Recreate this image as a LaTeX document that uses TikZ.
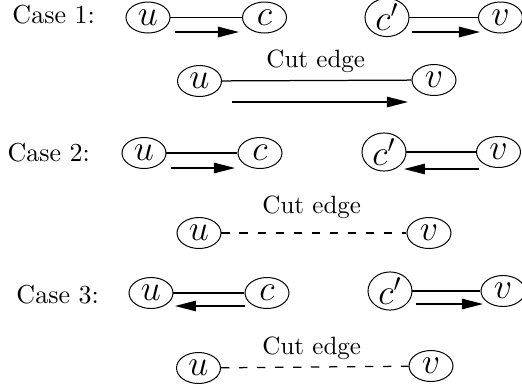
\documentclass[tikz,border=0pt]{standalone}
\usetikzlibrary{shapes.geometric,arrows.meta}
\begin{document}
\begin{tikzpicture}[x=0.4pt,y=-0.4pt,
  vert/.style={draw,ellipse,line width=0.4pt,inner sep=0pt,
    minimum width=17.6pt,minimum height=12.4pt,font=\Large},
  link/.style={line width=0.5pt},
  cutlink/.style={line width=0.5pt,dash pattern=on 3.4pt off 3.8pt},
  flow/.style={line width=0.5pt,-{Triangle[length=8.4pt,width=4.2pt]}},
  caselabel/.style={anchor=base west,inner sep=0pt,font=\fontsize{10.4}{12}\selectfont},
  cutlabel/.style={anchor=base west,inner sep=0pt}]
\useasboundingbox (0,0) rectangle (522,389);

% ---- Case 1 ----
\node[caselabel] (l1) at (12,23) {Case 1:};
\node[vert] (u1) at (148,17.5) {$u$};
\node[vert] (c1) at (264.5,17.5) {$c$};
\node[vert] (cp1) at (387,17.5) {$c'$};
\node[vert] (v1) at (500.5,17.5) {$v$};
\draw[link] (u1) -- (c1);
\draw[link] (cp1) -- (v1);
\coordinate (a1s) at (175,32); \coordinate (a1e) at (239,32);
\coordinate (b1s) at (412,32); \coordinate (b1e) at (480,32);
\draw[flow] (a1s) -- (a1e);
\draw[flow] (b1s) -- (b1e);

\node[cutlabel] (t1) at (266,67) {Cut edge};
\node[vert] (u2) at (199.5,81) {$u$};
\node[vert] (v2) at (434,80) {$v$};
\draw[link] (u2) -- (v2);
\coordinate (a2s) at (232,102); \coordinate (a2e) at (408,102);
\draw[flow] (a2s) -- (a2e);

% ---- Case 2 ----
\node[caselabel] (l2) at (7,161) {Case 2:};
\node[vert] (u3) at (144,153) {$u$};
\node[vert] (c3) at (260,153) {$c$};
\node[vert] (cp3) at (384,152) {$c'$};
\node[vert] (v3) at (498.5,152) {$v$};
\draw[link] (u3) -- (c3);
\draw[link] (cp3) -- (v3);
\coordinate (a3s) at (171,168); \coordinate (a3e) at (235,168);
\coordinate (b3s) at (479,169); \coordinate (b3e) at (404,169);
\draw[flow] (a3s) -- (a3e);
\draw[flow] (b3s) -- (b3e);

\node[cutlabel] (t4) at (262,213) {Cut edge};
\node[vert] (u4) at (199,233) {$u$};
\node[vert] (v4) at (429,233) {$v$};
\draw[cutlink] (u4) -- (v4);

% ---- Case 3 ----
\node[caselabel] (l3) at (16,303) {Case 3:};
\node[vert] (u5) at (151,293) {$u$};
\node[vert] (c5) at (267,293) {$c$};
\node[vert] (cp5) at (390,291) {$c'$};
\node[vert] (v5) at (503,291) {$v$};
\draw[link] (u5) -- (c5);
\draw[link] (cp5) -- (v5);
\coordinate (a5s) at (245,306); \coordinate (a5e) at (175,306);
\coordinate (b5s) at (416,304); \coordinate (b5e) at (483,304);
\draw[flow] (a5s) -- (a5e);
\draw[flow] (b5s) -- (b5e);

\node[cutlabel] (t6) at (262,354) {Cut edge};
\node[vert] (u6) at (198.5,368) {$u$};
\node[vert] (v6) at (431,366) {$v$};
\draw[cutlink] (u6) -- (v6);
\end{tikzpicture}
\end{document}
